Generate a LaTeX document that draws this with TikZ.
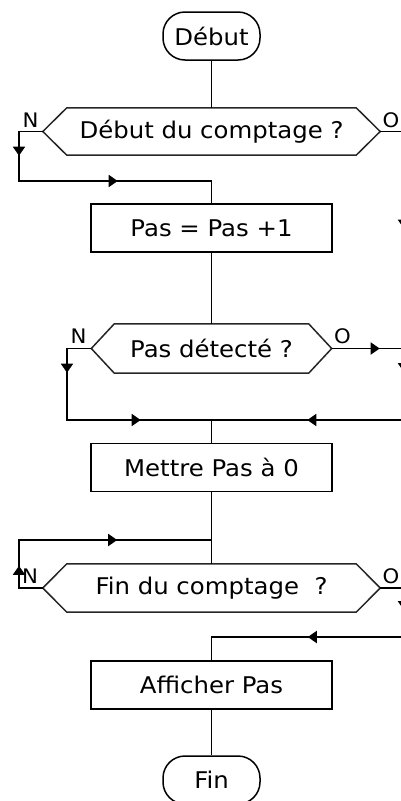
\documentclass[tikz,border=0pt]{standalone}
\usepackage{fontspec}
\setmainfont{DejaVu Sans}[FakeStretch=1.06]
\usetikzlibrary{arrows.meta,decorations.markings}

\tikzset{
  flowtip/.tip={Triangle[length=9pt,width=12pt]},
  flow/.style={line width=1.8pt},
  tipat/.style={postaction={decorate,
      decoration={markings, mark=at position #1 with {\arrow{flowtip}}}}},
  txt/.style={font=\fontsize{23}{27}\selectfont},
  stepbox/.style={txt, draw, line width=1.8pt, minimum width=241pt,
      minimum height=48pt, inner sep=0pt},
  term/.style={txt, draw, line width=1.5pt, rounded corners=22pt,
      minimum width=97pt, minimum height=48pt, inner sep=0pt},
  test/.style={txt, inner sep=0pt},
  hexa/.style={line width=1.5pt, draw=black!85},
  yn/.style={font=\fontsize{20}{24}\selectfont, inner sep=0pt},
}

% hexagonal outline around a test node: #1 node, #2 inset of the points
\newcommand\hexaround[2]{%
  \draw[hexa] (#1.west) -- ([xshift=#2]#1.north west)
    -- ([xshift=-#2]#1.north east) -- (#1.east)
    -- ([xshift=-#2]#1.south east) -- ([xshift=#2]#1.south west) -- cycle;}

\begin{document}
\begin{tikzpicture}[x=1pt,y=-1pt]
\useasboundingbox (0,0) rectangle (401,801);
\clip (0,0) rectangle (401,801);

% blocks
\node[term] (debut) at (211.5,36) {Début};
\node[test, minimum width=337pt, minimum height=47pt] (h1) at (211.5,131.5) {Début du comptage ?};
\hexaround{h1}{24pt}
\node[stepbox] (b1) at (211.5,228) {Pas = Pas +1};
\node[test, minimum width=240pt, minimum height=49pt] (h2) at (211.5,348.5) {Pas détecté ?};
\hexaround{h2}{23pt}
\node[stepbox] (b2) at (211.5,467.5) {Mettre Pas à 0};
\node[test, minimum width=337pt, minimum height=48pt] (h3) at (211.5,588) {Fin du comptage~ ?};
\hexaround{h3}{24pt}
\node[stepbox] (b3) at (211.5,685) {Afficher Pas};
\node[term] (fin) at (211.5,780) {Fin};

% branch labels
\node[yn] (n1) at (30.5,120) {N};
\node[yn] (o1) at (391,120) {O};
\node[yn] (n2) at (78.5,336) {N};
\node[yn] (o2) at (342.5,336) {O};
\node[yn] (n3) at (30,576) {N};
\node[yn] (o3) at (391,576) {O};

% routing points
\coordinate (l1a) at (19,131.5);
\coordinate (l1b) at (19,181);
\coordinate (j1)  at (211.5,181);
\coordinate (r1)  at (404,131.5);
\coordinate (r2)  at (404,420);
\coordinate (j2)  at (211.5,420);
\coordinate (r3)  at (404,348.5);
\coordinate (l2a) at (67,348.5);
\coordinate (l2b) at (67,420);
\coordinate (l3a) at (19,588);
\coordinate (l3b) at (19,540);
\coordinate (j3)  at (211.5,540);
\coordinate (r4)  at (404,588);
\coordinate (r5)  at (404,637);
\coordinate (j4)  at (211.5,637);

% main line
\draw[flow] (debut.south) -- (h1.north);
\draw[flow] (b1.south) -- (h2.north);
\draw[flow] (j2) -- (b2.north);
\draw[flow] (b2.south) -- (h3.north);
\draw[flow] (b3.south) -- (fin.north);

% loops and branches
\draw[flow, tipat=48pt, tipat=172pt] (h1.west) -- (l1a) -- (l1b) -- (j1) -- (b1.north);
\draw[flow, tipat=121pt, tipat=409pt] (h1.east) -- (r1) -- (r2) -- (j2);
\draw[flow, tipat=48pt, tipat=96pt] (h2.east) -- (r3) -- (r2);
\draw[flow, tipat=48.5pt, tipat=169.5pt] (h2.west) -- (l2a) -- (l2b) -- (j2);
\draw[flow, tipat=46pt, tipat=170pt] (h3.west) -- (l3a) -- (l3b) -- (j3);
\draw[flow, tipat=46pt, tipat=169pt] (h3.east) -- (r4) -- (r5) -- (j4) -- (b3.north);
\end{tikzpicture}
\end{document}
